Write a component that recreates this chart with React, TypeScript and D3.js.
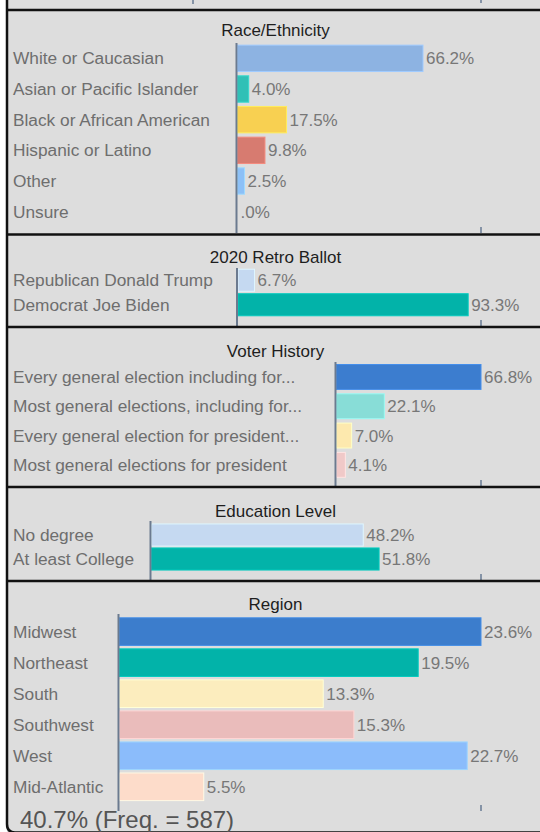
import React from "react";
import * as d3 from "d3";

// ---------- data ----------
const raceCategories = ["White or Caucasian", "Asian or Pacific Islander", "Black or African American", "Hispanic or Latino", "Other", "Unsure"];
const raceValues = [66.2, 4.0, 17.5, 9.8, 2.5, 0.0];

const ballotCategories = ["Republican Donald Trump", "Democrat Joe Biden"];
const ballotValues = [6.7, 93.3];

const historyCategories = [
  "Every general election including for...",
  "Most general elections, including for...",
  "Every general election for president...",
  "Most general elections for president",
];
const historyValues = [66.8, 22.1, 7.0, 4.1];

const educationCategories = ["No degree", "At least College"];
const educationValues = [48.2, 51.8];

const regionCategories = ["Midwest", "Northeast", "South", "Southwest", "West", "Mid-Atlantic"];
const regionValues = [23.6, 19.5, 13.3, 15.3, 22.7, 5.5];

const panelTitles = ["Race/Ethnicity", "2020 Retro Ballot", "Voter History", "Education Level", "Region"];
// value at the right-hand reference tick of each panel's axis
const axisMaxValues = [86.9, 98.5, 66.8, 75.0, 23.6];

const footerText = "40.7% (Freq. = 587)";

// ---------- styles ----------
const raceColors = ["#8db3e2", "#30c0b6", "#f8d051", "#d77b70", "#8cc0f7", "#8cc0f7"];
const ballotColors = ["#c5d9f1", "#02b3a9"];
const historyColors = ["#3c7dcf", "#88ddd7", "#fde9ae", "#f0c9c8"];
const educationColors = ["#c5d9f1", "#02b3a9"];
const regionColors = ["#3c7dcc", "#02b3a9", "#fcedbe", "#eabcbb", "#8bbcfb", "#fddcca"];

const W = 540;
const H = 832;
const TICK_X = 481;
const FONT = "'Liberation Sans', Arial, sans-serif";

const fmt = (v: number) => d3.format(".1f")(v).replace(/^0\./, ".") + "%";

const layouts = [
  { axisX: 236.5, bandTop: 43, bandBottom: 227, pad: 0.14, axisTop: 43, axisBottom: 233, titleY: 30 },
  { axisX: 237, bandTop: 268, bandBottom: 317, pad: 0.1, axisTop: 268, axisBottom: 326, titleY: 257.5 },
  { axisX: 335.5, bandTop: 362.3, bandBottom: 479.5, pad: 0.15, axisTop: 362, axisBottom: 486, titleY: 351 },
  { axisX: 150.5, bandTop: 523, bandBottom: 571, pad: 0.08, axisTop: 521, axisBottom: 580, titleY: 511 },
  { axisX: 118.5, bandTop: 616.1, bandBottom: 802.3, pad: 0.11, axisTop: 614, axisBottom: 811, titleY: 604 },
];

const separators = [10, 234.5, 327, 487, 581];

const datasets = [
  { cats: raceCategories, vals: raceValues, colors: raceColors },
  { cats: ballotCategories, vals: ballotValues, colors: ballotColors },
  { cats: historyCategories, vals: historyValues, colors: historyColors },
  { cats: educationCategories, vals: educationValues, colors: educationColors },
  { cats: regionCategories, vals: regionValues, colors: regionColors },
];

function Panel({ idx }: { idx: number }) {
  const L = layouts[idx];
  const D = datasets[idx];
  const x = d3.scaleLinear().domain([0, axisMaxValues[idx]]).range([L.axisX + 1, TICK_X]);
  const y = d3
    .scaleBand<string>()
    .domain(D.cats)
    .range([L.bandTop, L.bandBottom])
    .paddingInner(L.pad)
    .paddingOuter(L.pad / 2);
  const bw = y.bandwidth();
  return (
    <g>
      <text x={275.5} y={L.titleY} dy="0.35em" textAnchor="middle" fontSize={17} fill="#1e1e1e" fontFamily={FONT}>
        {panelTitles[idx]}
      </text>
      {D.cats.map((c, i) => {
        const y0 = y(c) as number;
        const v = D.vals[i];
        const w = x(v) - x(0);
        const fill = D.colors[i];
        const stroke = d3.color(fill)!.brighter(0.35).formatHex();
        return (
          <g key={c}>
            <text x={13} y={y0 + bw / 2} dy="0.35em" fontSize={17.3} fill="#6e6e6e" fontFamily={FONT}>
              {c}
            </text>
            {w > 0 && (
              <rect x={x(0)} y={y0} width={w} height={bw} fill={fill} stroke={stroke} strokeWidth={1} />
            )}
            <text x={x(v) + 3} y={y0 + bw / 2} dy="0.35em" fontSize={17} fill="#777777" fontFamily={FONT}>
              {fmt(v)}
            </text>
          </g>
        );
      })}
      <line x1={L.axisX} x2={L.axisX} y1={L.axisTop} y2={L.axisBottom} stroke="#6b7a8f" strokeWidth={2} />
      <line
        x1={x(axisMaxValues[idx])}
        x2={x(axisMaxValues[idx])}
        y1={L.axisBottom - 6}
        y2={L.axisBottom}
        stroke="#8593a6"
        strokeWidth={2}
      />
    </g>
  );
}

export default function App() {
  return (
    <svg
      width={W}
      height={H}
      style={{ position: "absolute", left: 0, top: 0, display: "block" }}
      viewBox={`0 0 ${W} ${H}`}
    >
      <rect x={0} y={0} width={W} height={H} fill="#ffffff" />
      <rect x={7} y={0} width={W - 7} height={H} fill="#dddddd" />
      {/* remnants of the panel above */}
      <line x1={193} x2={193} y1={0} y2={4} stroke="#8593a6" strokeWidth={2} />
      <line x1={TICK_X} x2={TICK_X} y1={0} y2={3} stroke="#8593a6" strokeWidth={2} />
      {layouts.map((_, i) => (
        <Panel key={i} idx={i} />
      ))}
      {separators.map((s) => (
        <line key={s} x1={7} x2={W} y1={s} y2={s} stroke="#111111" strokeWidth={2.5} />
      ))}
      <path
        d={`M7,0 L7,${H - 8} Q7,${H + 0.5} 15,${H + 0.5} L${W},${H + 0.5}`}
        fill="none"
        stroke="#111111"
        strokeWidth={2.5}
      />
      <text x={20} y={828} fontSize={24} fill="#555555" fontFamily={FONT}>
        {footerText}
      </text>
    </svg>
  );
}
